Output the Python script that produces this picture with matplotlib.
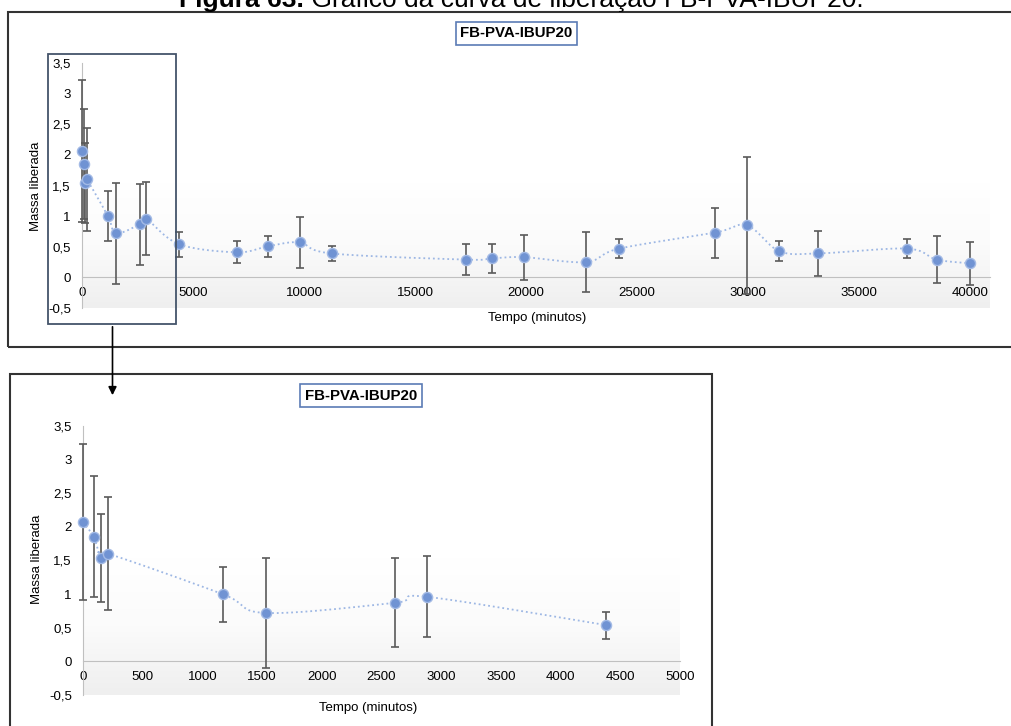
import numpy as np
import matplotlib
matplotlib.use("Agg")
import matplotlib.pyplot as plt
from matplotlib.patches import Rectangle, FancyArrowPatch
from matplotlib.colors import LinearSegmentedColormap
from matplotlib.ticker import FuncFormatter

plt.rcParams["font.family"] = ["Liberation Sans", "DejaVu Sans"]

# dados
tempo = [0, 90, 150, 210, 1170, 1530, 2610, 2880, 4380, 7000, 8400, 9800, 11250,
         17300, 18450, 19900, 22700, 24200, 28500, 29950, 31400, 33150, 37150,
         38500, 40000]
massa = [2.07, 1.85, 1.54, 1.60, 1.00, 0.72, 0.87, 0.96, 0.54, 0.41, 0.51, 0.57,
         0.39, 0.29, 0.31, 0.33, 0.25, 0.47, 0.73, 0.85, 0.43, 0.39, 0.47, 0.29,
         0.23]
erro = [1.16, 0.90, 0.65, 0.84, 0.41, 0.82, 0.66, 0.60, 0.20, 0.18, 0.17, 0.42,
        0.13, 0.25, 0.24, 0.37, 0.49, 0.15, 0.41, 1.12, 0.17, 0.36, 0.15, 0.38,
        0.35]
n_zoom = 9  # pontos do grafico ampliado (ate 4500 min)

y_ticks = [-0.5, 0, 0.5, 1, 1.5, 2, 2.5, 3, 3.5]
x_ticks_total = list(range(0, 40001, 5000))
x_ticks_zoom = list(range(0, 5001, 500))

titulo = "FB-PVA-IBUP20"

W, H = 1011, 726
fig = plt.figure(figsize=(W / 100, H / 100), dpi=100)


def px_rect(l, t, r, b):
    return [l / W, 1 - b / H, (r - l) / W, (b - t) / H]


def smooth(ax, x, y, n=24):
    # curva suavizada tipo Excel (bezier catmull-rom em pixels)
    p = ax.transData.transform(np.column_stack([x, y]))
    pts = np.vstack([p[0], p, p[-1]])
    out = []
    for i in range(1, len(pts) - 2):
        p0, p1, p2, p3 = pts[i - 1], pts[i], pts[i + 1], pts[i + 2]
        c1 = p1 + (p2 - p0) / 6
        c2 = p2 - (p3 - p1) / 6
        t = np.linspace(0, 1, n)[:, None]
        seg = (1 - t) ** 3 * p1 + 3 * (1 - t) ** 2 * t * c1 + 3 * (1 - t) * t ** 2 * c2 + t ** 3 * p2
        out.append(seg)
    out = np.vstack(out)
    return ax.transData.inverted().transform(out)


grad = LinearSegmentedColormap.from_list("g", ["#ffffff", "#fbfbfb", "#efefef"])


def draw_chart(ax, x, y, e, xmax, xticks):
    # fundo em degrade (branco em cima, cinza claro embaixo)
    ax.imshow(np.linspace(1, 0, 100)[:, None], extent=[0, xmax, -0.5, 1.55],
              aspect="auto", cmap=grad, zorder=0, origin="lower", vmin=0, vmax=1)
    ax.set_xlim(0, xmax)
    ax.set_ylim(-0.5, 3.5)
    for s in ["top", "right"]:
        ax.spines[s].set_visible(False)
    ax.spines["bottom"].set_position(("data", 0))
    ax.spines["bottom"].set_color("#c0c0c0")
    ax.spines["left"].set_color("#c0c0c0")
    ax.spines["bottom"].set_zorder(1)
    ax.set_xticks(xticks)
    ax.set_yticks(y_ticks)
    ax.yaxis.set_major_formatter(FuncFormatter(lambda v, p: ("%g" % v).replace(".", ",")))
    ax.tick_params(axis="both", length=0, labelsize=9.5, colors="#000000")
    ax.tick_params(axis="x", pad=7)
    ax.tick_params(axis="y", pad=8)
    ax.patch.set_alpha(0)
    curva = smooth(ax, x, y)
    ax.plot(curva[:, 0], curva[:, 1], ls=":", lw=1.3, color="#9db7e4", zorder=2)
    ax.errorbar(x, y, yerr=e, fmt="none", ecolor="#5a5a5a", elinewidth=1.2,
                capsize=3, capthick=1.2, zorder=3, clip_on=False)
    ax.plot(x, y, "o", ms=7.3, mfc="#7093d3", mec="#a3bae5", mew=1, zorder=4, clip_on=False)


ax1 = fig.add_axes(px_rect(82, 63, 990, 308))
draw_chart(ax1, tempo, massa, erro, 40900, x_ticks_total)

ax2 = fig.add_axes(px_rect(83, 426, 680, 695))
draw_chart(ax2, tempo[:n_zoom], massa[:n_zoom], erro[:n_zoom], 5000, x_ticks_zoom)

# rotulos dos eixos
fig.text(36 / W, 1 - 186 / H, "Massa liberada", rotation=90, ha="center", va="center", fontsize=9.5)
fig.text(537 / W, 1 - 318 / H, "Tempo (minutos)", ha="center", va="center", fontsize=9.5)
fig.text(37 / W, 1 - 559 / H, "Massa liberada", rotation=90, ha="center", va="center", fontsize=9.5)
fig.text(368 / W, 1 - 708 / H, "Tempo (minutos)", ha="center", va="center", fontsize=9.5)

# titulos em caixa
box = dict(boxstyle="square,pad=0.3", fc="white", ec="#5b7bb5", lw=1.2)
fig.text(516.5 / W, 1 - 33 / H, titulo, ha="center", va="center", fontsize=10.8,
         fontweight="bold", bbox=box)
fig.text(361 / W, 1 - 395.5 / H, titulo, ha="center", va="center", fontsize=10.8,
         fontweight="bold", bbox=box)

# molduras
fig.add_artist(Rectangle((8 / W, 1 - 347 / H), 1010 / W, 335 / H, transform=fig.transFigure,
                         fill=False, ec="#333333", lw=1.5))
fig.add_artist(Rectangle((10 / W, 1 - 740 / H), 702 / W, 366 / H, transform=fig.transFigure,
                         fill=False, ec="#333333", lw=1.5))
fig.add_artist(Rectangle((48 / W, 1 - 324 / H), 128 / W, 270 / H, transform=fig.transFigure,
                         fill=False, ec="#44546a", lw=1.3, zorder=10))
fig.add_artist(FancyArrowPatch((112.5 / W, 1 - 324 / H), (112.5 / W, 1 - 398 / H),
                               transform=fig.transFigure, arrowstyle="-|>",
                               mutation_scale=12, color="black", lw=1.2))

# legenda da figura (cortada no topo, como no original)
fig.canvas.draw()
r = fig.canvas.get_renderer()
t1 = fig.text(0, 1 - 7 / H, "Figura 63.", fontsize=19, fontweight="bold", va="baseline")
t2 = fig.text(0, 1 - 7 / H, " Gráfico da curva de liberação FB-PVA-IBUP20.", fontsize=19,
              va="baseline")
w1 = t1.get_window_extent(r).width
w2 = t2.get_window_extent(r).width
x0 = 521 - (w1 + w2) / 2
t1.set_x(x0 / W)
t2.set_x((x0 + w1) / W)

fig.savefig("out.png", dpi=100)
